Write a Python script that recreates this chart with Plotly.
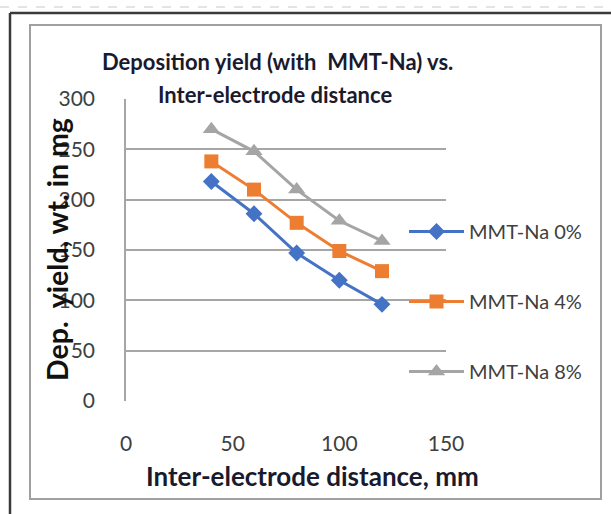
import plotly.graph_objects as go

distance_mm = [40, 60, 80, 100, 120]
yield_0 = [218, 186, 147, 120, 96]
yield_4 = [238, 210, 177, 149, 129]
yield_8 = [270, 248, 210, 179, 159]
series_names = ["MMT-Na 0%", "MMT-Na 4%", "MMT-Na 8%"]
x_ticks = [0, 50, 100, 150]
y_ticks = [0, 50, 100, 150, 200, 250, 300]

W, H = 611, 514
L, R, T, B = 126, 446, 99, 401  # plot area in px


def px(x):
    return (x - L) / (R - L)


def py(y):
    return (B - y) / (B - T)


FONT = "Lato"
fig = go.Figure()
styles = [
    dict(color="#4472C4", symbol="diamond", size=13),
    dict(color="#ED7D31", symbol="square", size=14),
    dict(color="#A5A5A5", symbol="triangle-up", size=15),
]
for i, (name, ys, st) in enumerate(zip(series_names, [yield_0, yield_4, yield_8], styles)):
    fig.add_trace(go.Scatter(
        x=distance_mm, y=ys, name=name, mode="lines+markers",
        line=dict(color=st["color"], width=3),
        marker=dict(color=st["color"], symbol=st["symbol"], size=st["size"]),
        legendgroup=f"g{i}",
    ))

fig.update_layout(
    width=W, height=H, autosize=False,
    margin=dict(l=L, r=W - R, t=T, b=H - B, pad=0),
    paper_bgcolor="white", plot_bgcolor="white",
    font=dict(family=FONT, color="#404040"),
    showlegend=True,
    legend=dict(x=px(404), y=py(212), xanchor="left", yanchor="top",
                font=dict(size=20, color="#404040", family=FONT),
                tracegroupgap=41, itemwidth=55, bgcolor="rgba(0,0,0,0)"),
    xaxis=dict(range=[0, 150], tickvals=x_ticks, showgrid=False, zeroline=False,
               showline=False, ticks="", tickfont=dict(size=21, color="#404040"),
               ticklabelstandoff=28, fixedrange=True),
    yaxis=dict(range=[0, 300], tickvals=y_ticks, showgrid=True, gridcolor="#A6A6A6",
               gridwidth=1.5, zeroline=False, showline=True, linecolor="#A6A6A6",
               linewidth=1.5, ticks="", tickfont=dict(size=21, color="#404040"),
               ticklabelstandoff=25, fixedrange=True),
)

shapes = [
    dict(type="line", xref="paper", yref="paper", x0=px(0), x1=px(611), y0=py(7), y1=py(7),
         line=dict(color="#C8C8C8", width=1, dash="dash")),
    dict(type="line", xref="paper", yref="paper", x0=px(10), x1=px(615), y0=py(13), y1=py(13),
         line=dict(color="#3A3A3A", width=2.5)),
    dict(type="line", xref="paper", yref="paper", x0=px(10), x1=px(10), y0=py(13), y1=py(520),
         line=dict(color="#3A3A3A", width=2.5)),
    dict(type="rect", xref="paper", yref="paper", x0=px(30), x1=px(601), y0=py(25), y1=py(499),
         line=dict(color="#A0A0A0", width=2), layer="below"),
]
fig.update_layout(shapes=shapes)

ann = [
    dict(text="<b>Deposition yield (with  MMT-Na) vs.</b>", x=px(277), y=py(62), size=22),
    dict(text="<b>Inter-electrode distance</b>", x=px(275), y=py(95), size=22),
    dict(text="<b>Inter-electrode distance, mm</b>", x=px(312), y=py(476), size=26),
]
for a in ann:
    size = a.pop("size")
    fig.add_annotation(xref="paper", yref="paper", xanchor="center", yanchor="middle",
                       showarrow=False, font=dict(size=size, color="#1A1A2E", family=FONT), **a)
fig.add_annotation(text="<b>Dep.  yield, wt. in mg</b>", xref="paper", yref="paper",
                   x=px(57), y=py(250), xanchor="center", yanchor="middle", textangle=-90,
                   showarrow=False, font=dict(size=28.5, color="#111111", family=FONT))

fig.write_html("out.html")
